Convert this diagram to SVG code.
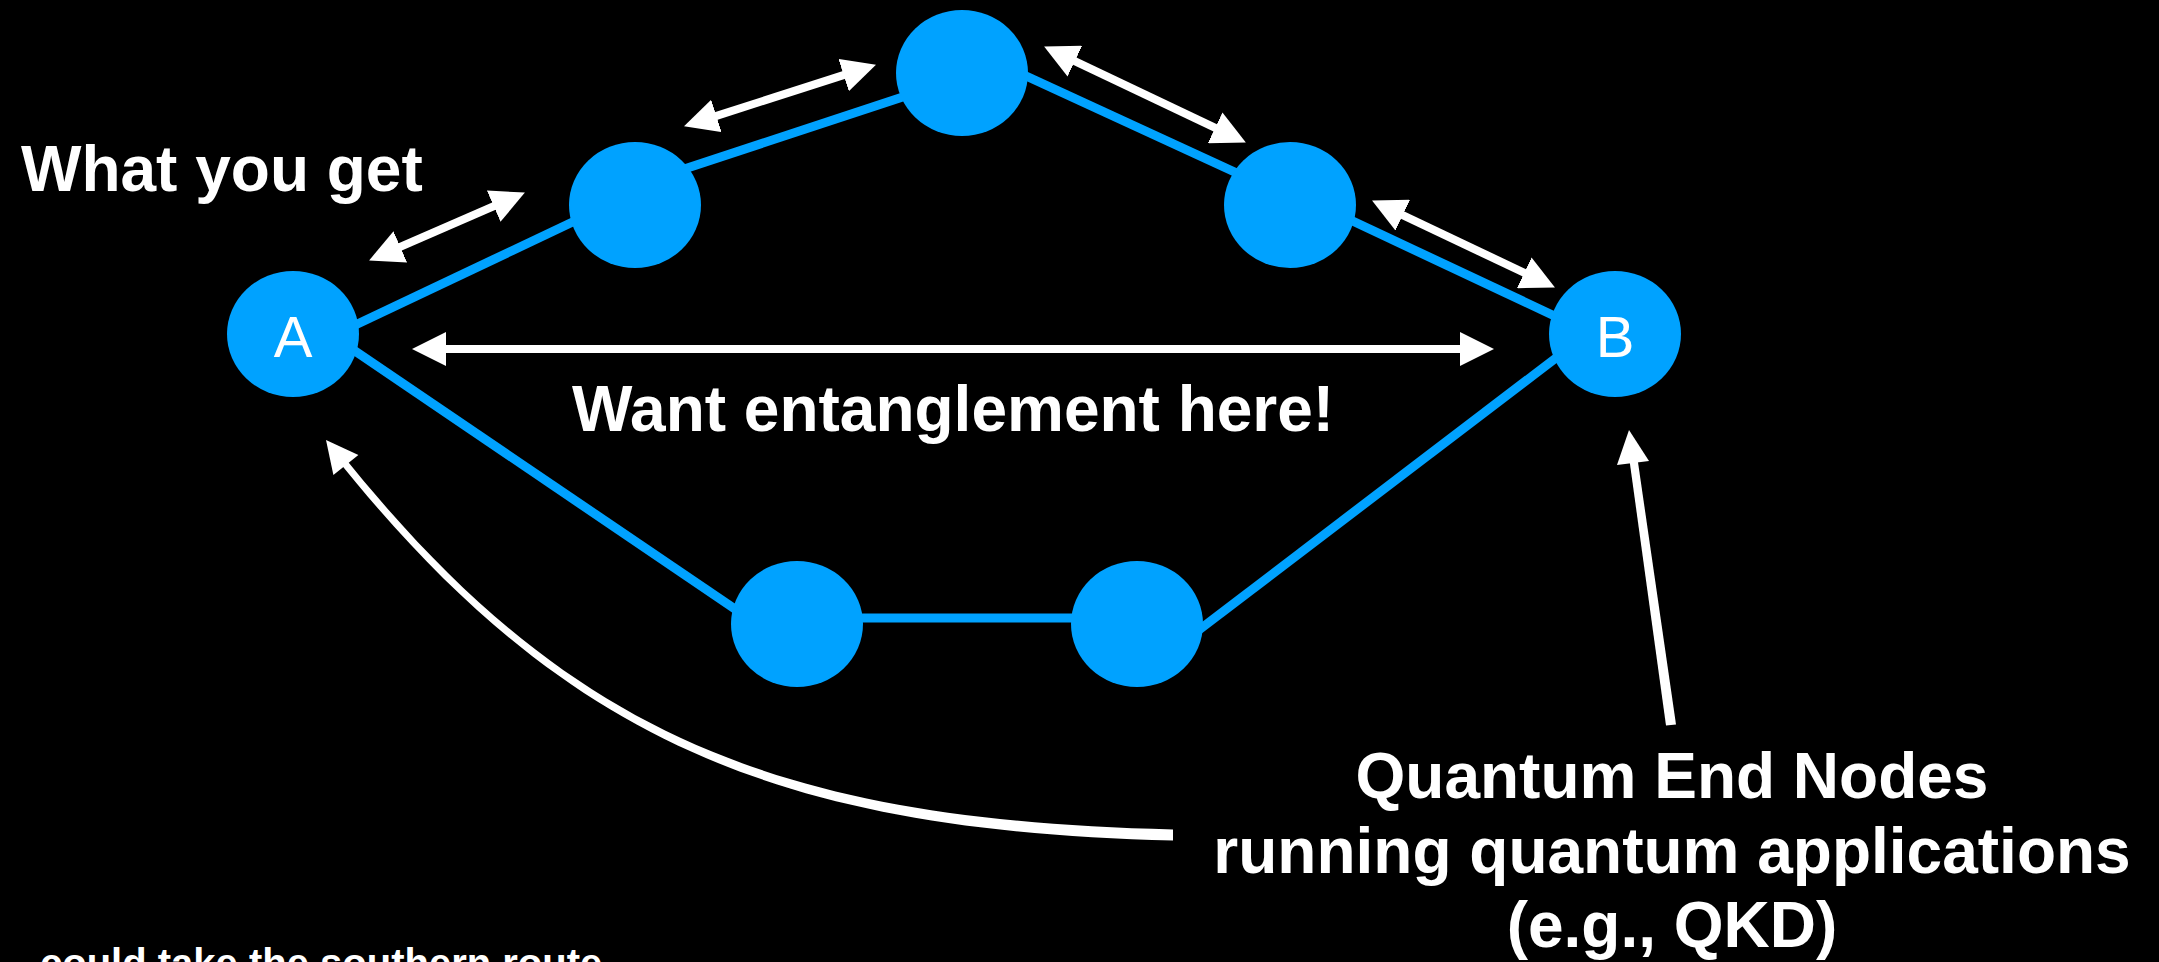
<svg xmlns="http://www.w3.org/2000/svg" width="2159" height="962" viewBox="0 0 2159 962">
<style>
.bg{fill:#000}
.node{fill:#00A2FF}
.link{stroke:#00A2FF;stroke-width:9;fill:none}
.arr{stroke:#fff;stroke-width:8;fill:none}
.head{fill:#fff}
.lbl{font-family:"Liberation Sans",Arial,sans-serif;font-weight:bold;font-size:64px;fill:#fff}
.nl{font-family:"Liberation Sans",Arial,sans-serif;font-size:58px;fill:#fff;text-anchor:middle}
</style>
<defs>
<marker id="ah" markerUnits="userSpaceOnUse" markerWidth="34" markerHeight="34" viewBox="0 0 32 32" refX="16" refY="16" orient="auto-start-reverse">
<path d="M0,0 L32,16 L0,32 Z" fill="#fff"/>
</marker>
</defs>
<rect class="bg" x="0" y="0" width="2159" height="962"/>
<g id="links">
<line class="link" x1="330" y1="337" x2="600" y2="209"/>
<line class="link" x1="660" y1="177" x2="930" y2="88"/>
<line class="link" x1="1000" y1="64" x2="1265" y2="186"/>
<line class="link" x1="1325" y1="208" x2="1580" y2="328"/>
<line class="link" x1="330" y1="334" x2="760" y2="626"/>
<line class="link" x1="797" y1="618" x2="1137" y2="618"/>
<line class="link" x1="1170" y1="652" x2="1590" y2="332"/>
</g>
<g id="connectors">
<line class="arr" x1="384.7" y1="253.6" x2="509.3" y2="199.4" marker-start="url(#ah)" marker-end="url(#ah)"/>
<line class="arr" x1="700.2" y1="121.1" x2="859.8" y2="69.9" marker-start="url(#ah)" marker-end="url(#ah)"/>
<line class="arr" x1="1059.5" y1="53.9" x2="1230.5" y2="135.1" marker-start="url(#ah)" marker-end="url(#ah)"/>
<line class="arr" x1="1387.4" y1="207.9" x2="1539.6" y2="280.1" marker-start="url(#ah)" marker-end="url(#ah)"/>
<line class="arr" x1="429" y1="349" x2="1477" y2="349" marker-start="url(#ah)" marker-end="url(#ah)"/>
<path class="head" d="M1173,840.5 C773,830.5 559.3,738.2 333.3,454.7 L338.7,450.3 C564.7,733.8 773,819.5 1173,829.5 Z"/>
<polygon class="head" points="326,440 358.4,455 333.4,475"/>
<path class="head" d="M1666,725.5 L1676,724.5 L1635.5,445 L1627.5,446 Z"/>
<polygon class="head" points="1629,430 1649,461 1617,465"/>
</g>
<g id="nodeA"><ellipse class="node" cx="293" cy="334" rx="66" ry="63"/><text class="nl" x="293" y="357">A</text></g>
<g id="node1"><ellipse class="node" cx="635" cy="205" rx="66" ry="63"/></g>
<g id="node2"><ellipse class="node" cx="962" cy="73" rx="66" ry="63"/></g>
<g id="node3"><ellipse class="node" cx="1290" cy="205" rx="66" ry="63"/></g>
<g id="nodeB"><ellipse class="node" cx="1615" cy="334" rx="66" ry="63"/><text class="nl" x="1615" y="357">B</text></g>
<g id="node4"><ellipse class="node" cx="797" cy="624" rx="66" ry="63"/></g>
<g id="node5"><ellipse class="node" cx="1137" cy="624" rx="66" ry="63"/></g>
<g id="labels">
<text class="lbl" x="21" y="191">What you get</text>
<text class="lbl" x="572" y="431">Want entanglement here!</text>
<text class="lbl" text-anchor="middle" x="1672" y="798">Quantum End Nodes</text>
<text class="lbl" text-anchor="middle" x="1672" y="873">running quantum applications</text>
<text class="lbl" text-anchor="middle" x="1672" y="947">(e.g., QKD)</text>
<text class="lbl" style="font-size:40px" x="40" y="977">could take the southern route</text>
</g>
</svg>
